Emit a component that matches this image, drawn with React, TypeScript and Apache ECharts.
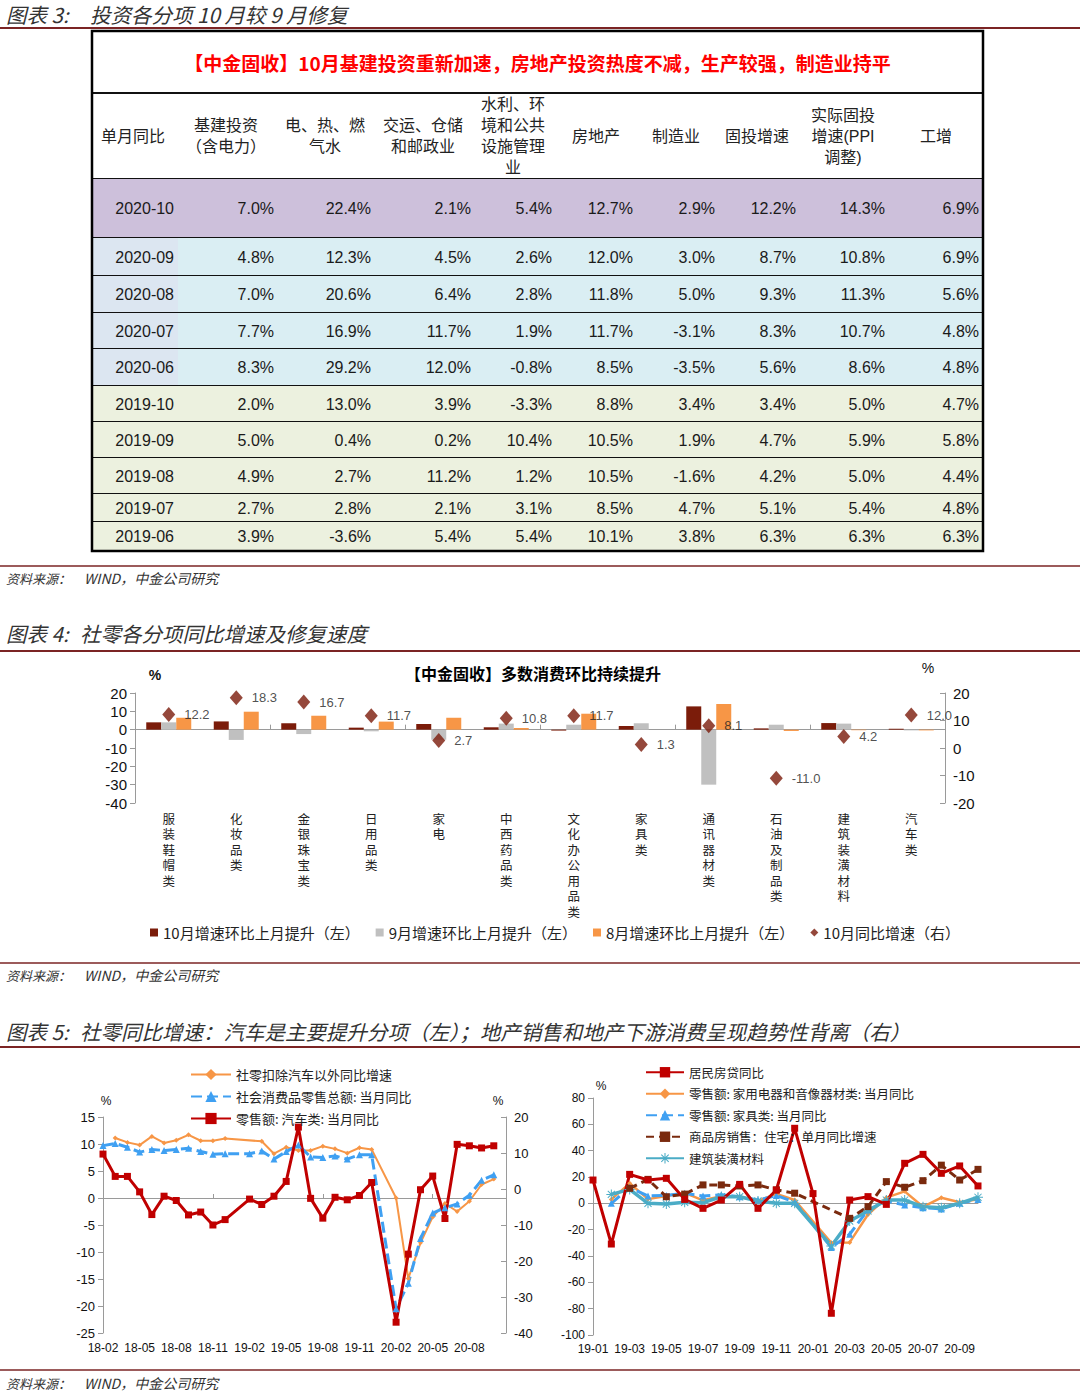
import React, { useEffect, useRef } from "react";
import * as echarts from "echarts";

const CJK = '"Noto Sans CJK SC", "Noto Sans", sans-serif';
const CJK_TIGHT = '"Liberation Sans", "Noto Sans CJK SC", sans-serif';
const LAT = '"Liberation Sans", Arial, sans-serif';

// ---------------- Figure 3: table ----------------
const tableTitle = "【中金固收】10月基建投资重新加速，房地产投资热度不减，生产较强，制造业持平";
const tableHeaders = [
  "单月同比",
  "基建投资\n（含电力）",
  "电、热、燃\n气水",
  "交运、仓储\n和邮政业",
  "水利、环\n境和公共\n设施管理\n业",
  "房地产",
  "制造业",
  "固投增速",
  "实际固投\n增速(PPI\n调整)",
  "工增",
];
const tableMonths = ["2020-10", "2020-09", "2020-08", "2020-07", "2020-06", "2019-10", "2019-09", "2019-08", "2019-07", "2019-06"];
const infraInv = [7.0, 4.8, 7.0, 7.7, 8.3, 2.0, 5.0, 4.9, 2.7, 3.9];
const utilities = [22.4, 12.3, 20.6, 16.9, 29.2, 13.0, 0.4, 2.7, 2.8, -3.6];
const transport = [2.1, 4.5, 6.4, 11.7, 12.0, 3.9, 0.2, 11.2, 2.1, 5.4];
const waterEnv = [5.4, 2.6, 2.8, 1.9, -0.8, -3.3, 10.4, 1.2, 3.1, 5.4];
const realEstate = [12.7, 12.0, 11.8, 11.7, 8.5, 8.8, 10.5, 10.5, 8.5, 10.1];
const manufacturing = [2.9, 3.0, 5.0, -3.1, -3.5, 3.4, 1.9, -1.6, 4.7, 3.8];
const faiGrowth = [12.2, 8.7, 9.3, 8.3, 5.6, 3.4, 4.7, 4.2, 5.1, 6.3];
const realFai = [14.3, 10.8, 11.3, 10.7, 8.6, 5.0, 5.9, 5.0, 5.4, 6.3];
const industrial = [6.9, 6.9, 5.6, 4.8, 4.8, 4.7, 5.8, 4.4, 4.8, 6.3];
const tableColumns = [infraInv, utilities, transport, waterEnv, realEstate, manufacturing, faiGrowth, realFai, industrial];

// ---------------- Figure 4: bars + diamonds ----------------
const cats4 = ["服装鞋帽类", "化妆品类", "金银珠宝类", "日用品类", "家电", "中西药品类", "文化办公用品类", "家具类", "通讯器材类", "石油及制品类", "建筑装潢材料", "汽车类"];
const legend4 = ["10月增速环比上月提升（左）", "9月增速环比上月提升（左）", "8月增速环比上月提升（左）", "10月同比增速（右）"];
const mom10 = [4.0, 4.5, 3.5, 1.1, 3.1, 1.3, -0.5, 2.0, 12.7, 0.7, 3.6, 0.5];
const mom9 = [4.0, -5.6, -2.4, -0.9, -5.5, 3.3, 2.7, 3.5, -30.0, 2.7, 3.3, -0.4];
const mom8 = [6.5, 9.8, 7.6, 4.4, 6.5, 0.9, 8.7, 0.0, 14.0, -0.7, -0.3, -0.4];
const yoy10 = [12.2, 18.3, 16.7, 11.7, 2.7, 10.8, 11.7, 1.3, 8.1, -11.0, 4.2, 12.0];

// ---------------- Figure 5 left ----------------
const monthsL = [
  "18-02", "18-03", "18-04", "18-05", "18-06", "18-07", "18-08", "18-09", "18-10", "18-11", "18-12",
  "19-01", "19-02", "19-03", "19-04", "19-05", "19-06", "19-07", "19-08", "19-09", "19-10", "19-11", "19-12",
  "20-01", "20-02", "20-03", "20-04", "20-05", "20-06", "20-07", "20-08", "20-09", "20-10", "20-11",
];
const namesL = ["社零扣除汽车以外同比增速", "社会消费品零售总额: 当月同比", "零售额: 汽车类: 当月同比"];
const exAutoYoY = [null, 11.1, 10.3, 9.8, 11.4, 10.2, 10.7, 11.7, 10.6, 10.6, 11.0, null, null, 10.5, 8.2, 9.4, 8.8, 8.8, 9.6, 9.1, 8.3, 9.3, 9.0, null, 0.0, -14.9, -8.3, -3.5, -1.0, -2.5, -0.6, 2.5, 3.5];
const retailYoY = [9.7, 10.1, 9.4, 8.5, 9.0, 8.8, 9.0, 9.2, 8.6, 8.1, 8.2, null, 8.2, 8.7, 7.2, 8.6, 9.8, 7.6, 7.5, 7.8, 7.2, 8.0, 8.0, null, -20.5, -15.8, -7.5, -2.8, -1.8, -1.1, 0.5, 3.3, 4.3];
const autoYoY = [9.7, 3.5, 3.5, -0.8, -7.1, -2.0, -3.2, -7.2, -6.4, -10.0, -8.5, null, -2.8, -4.3, -2.0, 2.1, 17.2, -2.6, -8.1, -2.3, -3.0, -1.8, 1.8, null, -37.0, -18.1, -0.2, 3.6, -8.2, 12.4, 12.0, 11.4, 12.0];

// ---------------- Figure 5 right ----------------
const monthsR = ["19-01", "19-02", "19-03", "19-04", "19-05", "19-06", "19-07", "19-08", "19-09", "19-10", "19-11", "19-12", "20-01", "20-02", "20-03", "20-04", "20-05", "20-06", "20-07", "20-08", "20-09", "20-10"];
const namesR = ["居民房贷同比", "零售额: 家用电器和音像器材类: 当月同比", "零售额: 家具类: 当月同比", "商品房销售：住宅：单月同比增速", "建筑装潢材料"];
const mortgageYoY = [17.7, -30.9, 22.0, 17.7, 19.0, 3.0, -3.8, 2.5, 14.4, -3.8, 10.1, 57.0, 7.4, -83.5, 2.5, 5.1, -0.8, 30.4, 37.2, 22.8, 28.4, 13.2];
const applianceYoY = [null, 3.0, 15.2, 3.2, 5.6, 8.0, 2.3, 5.4, 5.0, 1.9, 7.2, 2.5, null, -30.0, -29.7, -8.5, 4.3, 9.1, -2.6, 4.3, 0.8, 3.0];
const furnitureYoY = [null, 0.0, 12.0, 5.6, 6.0, 7.6, 5.6, 6.5, 5.0, 2.5, 6.0, 1.0, null, -33.5, -23.5, -5.0, 1.8, -1.3, -3.3, -4.3, 0.0, 3.0];
const housingSalesYoY = [null, null, 11.4, 18.2, 5.0, 7.0, 14.0, 14.0, 13.2, 14.0, 10.2, 7.7, null, null, -11.4, -2.5, 16.5, 12.2, 17.2, 29.0, 17.7, 25.8];
const buildingMatYoY = [null, 6.8, 10.6, 0.0, -0.5, 0.8, 0.5, 5.0, 5.0, 1.8, 0.0, 0.0, null, -32.4, -13.4, -5.8, 2.5, 2.5, -2.5, -3.3, 0.0, 4.6];

// ---------------- layout constants ----------------
const TABLE_W = 891;
const TABLE_H = 520;
const rowEdges = [0, 62, 148, 207, 245, 282, 318, 355, 391, 427, 463, 491, 520];
const headerCenters = [41, 134, 233, 331, 421, 504, 584, 665, 751, 844];
const valueRights = [82, 182, 279, 379, 460, 541, 623, 704, 793, 887];

const RED = "#C00000";
const ORANGE = "#F79646";
const BLUE = "#3FA0F2";
const BROWN = "#7A2A0E";
const CYAN = "#4BACC6";
const AXIS = "#9A9A9A";
const LINE_DARK = "#7B2424";
const ASTERISK = "path://M9,0H11V20H9Z M0,9H20V11H0Z M2.2,3.6L3.6,2.2L17.8,16.4L16.4,17.8Z M16.4,2.2L17.8,3.6L3.6,17.8L2.2,16.4Z";

function rowFill(i: number) {
  if (i === 0) return "#CDC0DB";
  if (i <= 4) return "#DAEEF3";
  return "#ECF1DF";
}

function renderTable(params: any, api: any) {
  const k = api.value(0);
  const pt = (x: number, y: number) => api.coord([x, y]);
  const x0 = pt(0, 0)[0];
  const x1 = pt(TABLE_W, 0)[0];
  const children: any[] = [];
  if (k === 12) {
    const a = pt(0, 0);
    const b = pt(TABLE_W, TABLE_H);
    children.push({ type: "rect", shape: { x: a[0], y: a[1], width: b[0] - a[0], height: b[1] - a[1] }, style: { fill: "none", stroke: "#000", lineWidth: 2.5 } });
    return { type: "group", children };
  }
  const top = pt(0, rowEdges[k])[1];
  const bottom = pt(0, rowEdges[k + 1])[1];
  const mid = (top + bottom) / 2;
  if (k === 0) {
    children.push({
      type: "text", x: pt(TABLE_W / 2, 0)[0], y: mid,
      style: { text: tableTitle, fill: "#FF0000", fontSize: 19, fontWeight: "bold", fontFamily: CJK, align: "center", verticalAlign: "middle" },
    });
  } else if (k === 1) {
    tableHeaders.forEach((h, j) => {
      children.push({
        type: "text", x: pt(headerCenters[j], 0)[0], y: mid,
        style: { text: h, fill: "#222", fontSize: 16, lineHeight: 21, fontFamily: CJK_TIGHT, align: "center", verticalAlign: "middle" },
      });
    });
  } else {
    const i = k - 2;
    children.push({ type: "rect", shape: { x: x0, y: top, width: x1 - x0, height: bottom - top }, style: { fill: rowFill(i) } });
    if (i >= 1 && i <= 4) {
      children.push({ type: "rect", shape: { x: x0, y: top, width: pt(86, 0)[0] - x0, height: bottom - top }, style: { fill: "#DCE6F1" } });
    }
    children.push({
      type: "text", x: pt(valueRights[0], 0)[0], y: mid,
      style: { text: tableMonths[i], fill: "#1a1a1a", fontSize: 16, fontFamily: LAT, align: "right", verticalAlign: "middle" },
    });
    tableColumns.forEach((col, j) => {
      children.push({
        type: "text", x: pt(valueRights[j + 1], 0)[0], y: mid,
        style: { text: col[i].toFixed(1) + "%", fill: "#1a1a1a", fontSize: 16, fontFamily: LAT, align: "right", verticalAlign: "middle" },
      });
    });
  }
  if (k < 11) {
    children.push({ type: "line", shape: { x1: x0, y1: bottom, x2: x1, y2: bottom }, style: { stroke: "#111", lineWidth: 2 } });
  }
  return { type: "group", children };
}

function hText(x: number, y: number, text: string, size: number, extra: any = {}) {
  return {
    type: "text", x, y, silent: true,
    style: { text, fontSize: size, fontFamily: CJK, fill: "#333", verticalAlign: "middle", ...extra },
  };
}
function hLine(y: number, w: number) {
  return { type: "line", silent: true, shape: { x1: 0, y1: y, x2: 1080, y2: y }, style: { stroke: LINE_DARK, lineWidth: w } };
}

function buildOption(): any {
  const axisLabelL = (size: number) => ({ fontSize: size, fontFamily: LAT, color: "#111", margin: 8 });
  const valAxisBase = {
    type: "value",
    splitLine: { show: false },
    axisLine: { show: true, lineStyle: { color: AXIS } },
    axisTick: { show: true, length: 5, lineStyle: { color: AXIS } },
  };
  const TITLE = 20.5;
  return {
    animation: false,
    backgroundColor: "#fff",
    grid: [
      { left: 92, top: 31, width: TABLE_W, height: TABLE_H },
      { left: 135, top: 693, width: 810, height: 110 },
      { left: 103, top: 1117, width: 403, height: 216 },
      { left: 593, top: 1098, width: 385, height: 237 },
    ],
    xAxis: [
      { gridIndex: 0, type: "value", min: 0, max: TABLE_W, show: false },
      {
        gridIndex: 1, type: "category", data: cats4, position: "bottom",
        axisLine: { onZero: true, lineStyle: { color: AXIS } },
        axisTick: { show: true, inside: true, length: 5, lineStyle: { color: AXIS } },
        axisLabel: { show: false },
      },
      {
        gridIndex: 1, type: "category", data: cats4, position: "bottom",
        axisLine: { show: false, onZero: false }, axisTick: { show: false },
        axisLabel: {
          interval: 0, formatter: (v: string) => v.split("").join("\n"),
          fontSize: 12.5, lineHeight: 15.5, fontFamily: CJK_TIGHT, color: "#222", margin: 9,
        },
      },
      {
        gridIndex: 2, type: "category", data: monthsL, boundaryGap: false, position: "bottom",
        axisLine: { onZero: true, lineStyle: { color: AXIS } },
        axisTick: { show: true, inside: true, length: 4, interval: 8, lineStyle: { color: AXIS } },
        axisLabel: { show: false },
      },
      {
        gridIndex: 2, type: "category", data: monthsL, boundaryGap: false, position: "bottom",
        axisLine: { show: false, onZero: false }, axisTick: { show: false },
        axisLabel: { interval: (i: number) => i % 3 === 0 && i < 33, fontSize: 12, fontFamily: LAT, color: "#111", margin: 9 },
      },
      {
        gridIndex: 3, type: "category", data: monthsR, boundaryGap: false, position: "bottom",
        axisLine: { onZero: true, lineStyle: { color: AXIS } }, axisTick: { show: false },
        axisLabel: { show: false },
      },
      {
        gridIndex: 3, type: "category", data: monthsR, boundaryGap: false, position: "bottom",
        axisLine: { show: false, onZero: false }, axisTick: { show: false },
        axisLabel: { interval: 1, fontSize: 12, fontFamily: LAT, color: "#111", margin: 8 },
      },
    ],
    yAxis: [
      { gridIndex: 0, type: "value", min: 0, max: TABLE_H, inverse: true, show: false },
      { ...valAxisBase, gridIndex: 1, position: "left", min: -40, max: 20, interval: 10, axisLabel: axisLabelL(15) },
      { ...valAxisBase, gridIndex: 1, position: "right", min: -20, max: 20, interval: 10, axisTick: { show: true, inside: true, length: 5, lineStyle: { color: AXIS } }, axisLabel: axisLabelL(15) },
      { ...valAxisBase, gridIndex: 2, position: "left", min: -25, max: 15, interval: 5, axisLabel: axisLabelL(13) },
      { ...valAxisBase, gridIndex: 2, position: "right", min: -40, max: 20, interval: 10, axisTick: { show: true, inside: true, length: 5, lineStyle: { color: AXIS } }, axisLabel: axisLabelL(13) },
      { ...valAxisBase, gridIndex: 3, position: "left", min: -100, max: 80, interval: 20, axisLabel: axisLabelL(12) },
    ],
    legend: [
      {
        selectedMode: false, left: 145, top: 920, itemWidth: 8, itemHeight: 8, itemGap: 16,
        data: [
          { name: legend4[0], icon: "rect" },
          { name: legend4[1], icon: "rect" },
          { name: legend4[2], icon: "rect" },
          { name: legend4[3], icon: "diamond" },
        ],
        textStyle: { fontSize: 15, fontFamily: CJK, color: "#222" },
      },
      {
        selectedMode: false, orient: "vertical", left: 185, top: 1063, itemWidth: 40, itemHeight: 14, itemGap: 9,
        data: namesL, textStyle: { fontSize: 13, fontFamily: CJK, color: "#222" },
      },
      {
        selectedMode: false, orient: "vertical", left: 640, top: 1061, itemWidth: 38, itemHeight: 13, itemGap: 9,
        data: namesR, textStyle: { fontSize: 12.5, fontFamily: CJK, color: "#222" },
      },
    ],
    series: [
      {
        type: "custom", name: "table", xAxisIndex: 0, yAxisIndex: 0,
        data: [0, 1, 2, 3, 4, 5, 6, 7, 8, 9, 10, 11, 12].map((k) => [k, 0]),
        renderItem: renderTable, silent: true,
      },
      { type: "bar", name: legend4[0], xAxisIndex: 1, yAxisIndex: 1, data: mom10, barWidth: 15, barGap: "0%", itemStyle: { color: "#7B1C0A" } },
      { type: "bar", name: legend4[1], xAxisIndex: 1, yAxisIndex: 1, data: mom9, barWidth: 15, barGap: "0%", itemStyle: { color: "#C0C0C0" } },
      { type: "bar", name: legend4[2], xAxisIndex: 1, yAxisIndex: 1, data: mom8, barWidth: 15, barGap: "0%", itemStyle: { color: ORANGE } },
      {
        type: "scatter", name: legend4[3], xAxisIndex: 1, yAxisIndex: 2, data: yoy10,
        symbol: "diamond", symbolSize: [13, 15], itemStyle: { color: "#7B1A0A" },
        label: { show: true, position: "right", distance: 9, formatter: (p: any) => Number(p.value).toFixed(1), fontSize: 13, fontFamily: LAT, color: "#222" },
      },
      {
        type: "line", name: namesL[0], xAxisIndex: 3, yAxisIndex: 3, data: exAutoYoY, connectNulls: true,
        symbol: "diamond", symbolSize: 5, lineStyle: { color: ORANGE, width: 2 }, itemStyle: { color: ORANGE },
      },
      {
        type: "line", name: namesL[1], xAxisIndex: 3, yAxisIndex: 3, data: retailYoY, connectNulls: true,
        symbol: "triangle", symbolSize: 7, lineStyle: { color: BLUE, width: 3, type: [11, 5] }, itemStyle: { color: BLUE },
      },
      {
        type: "line", name: namesL[2], xAxisIndex: 3, yAxisIndex: 4, data: autoYoY, connectNulls: true,
        symbol: "rect", symbolSize: 7, lineStyle: { color: RED, width: 3 }, itemStyle: { color: RED },
      },
      {
        type: "line", name: namesR[1], xAxisIndex: 5, yAxisIndex: 5, data: applianceYoY, connectNulls: true,
        symbol: "diamond", symbolSize: 5, lineStyle: { color: ORANGE, width: 2.5 }, itemStyle: { color: ORANGE },
      },
      {
        type: "line", name: namesR[2], xAxisIndex: 5, yAxisIndex: 5, data: furnitureYoY, connectNulls: true,
        symbol: "triangle", symbolSize: 7, lineStyle: { color: BLUE, width: 3, type: [11, 5] }, itemStyle: { color: BLUE },
      },
      {
        type: "line", name: namesR[4], xAxisIndex: 5, yAxisIndex: 5, data: buildingMatYoY, connectNulls: true,
        symbol: ASTERISK, symbolSize: 10, lineStyle: { color: CYAN, width: 3.5 }, itemStyle: { color: CYAN },
      },
      {
        type: "line", name: namesR[3], xAxisIndex: 5, yAxisIndex: 5, data: housingSalesYoY, connectNulls: true,
        symbol: "rect", symbolSize: 7, lineStyle: { color: BROWN, width: 3, type: [8, 5] }, itemStyle: { color: BROWN },
      },
      {
        type: "line", name: namesR[0], xAxisIndex: 5, yAxisIndex: 5, data: mortgageYoY, connectNulls: true,
        symbol: "rect", symbolSize: 7, lineStyle: { color: RED, width: 3 }, itemStyle: { color: RED },
      },
    ],
    graphic: {
      elements: [
        hText(6, 14, "图表 3:", TITLE, { fontStyle: "italic" }),
        hText(90, 14, "投资各分项 10 月较 9 月修复", TITLE, { fontStyle: "italic" }),
        hLine(28, 2),
        hLine(566, 1.5),
        hText(6, 578, "资料来源：", 13, { fontStyle: "italic" }),
        hText(84, 578, "WIND，中金公司研究", 14, { fontStyle: "italic" }),
        hText(6, 633, "图表 4:", TITLE, { fontStyle: "italic" }),
        hText(80, 633, "社零各分项同比增速及修复速度", TITLE, { fontStyle: "italic" }),
        hLine(651, 2),
        hText(533, 673, "【中金固收】多数消费环比持续提升", 16, { align: "center", fontWeight: "bold", fill: "#000" }),
        hText(155, 675, "%", 14, { align: "center", fontFamily: LAT, fontWeight: "bold", fill: "#111" }),
        hText(928, 668, "%", 14, { align: "center", fontFamily: LAT, fill: "#111" }),
        hLine(963, 1.5),
        hText(6, 975, "资料来源：", 13, { fontStyle: "italic" }),
        hText(84, 975, "WIND，中金公司研究", 14, { fontStyle: "italic" }),
        hText(6, 1031, "图表 5:", TITLE, { fontStyle: "italic" }),
        hText(80, 1031, "社零同比增速：汽车是主要提升分项（左）；地产销售和地产下游消费呈现趋势性背离（右）", TITLE, { fontStyle: "italic" }),
        hLine(1047, 2),
        hText(106, 1101, "%", 12, { align: "center", fontFamily: LAT, fill: "#111" }),
        hText(498, 1101, "%", 12, { align: "center", fontFamily: LAT, fill: "#111" }),
        hText(601, 1086, "%", 12, { align: "center", fontFamily: LAT, fill: "#111" }),
        hLine(1370, 1.5),
        hText(6, 1383, "资料来源：", 13, { fontStyle: "italic" }),
        hText(84, 1383, "WIND，中金公司研究", 14, { fontStyle: "italic" }),
      ],
    },
  };
}

export default function App() {
  const ref = useRef<HTMLDivElement>(null);
  useEffect(() => {
    if (!ref.current) return;
    const chart = echarts.init(ref.current, null, { renderer: "svg" });
    chart.setOption(buildOption());
    return () => chart.dispose();
  }, []);
  return (
    <div
      ref={ref}
      style={{ position: "absolute", left: 0, top: 0, width: 1080, height: 1396, background: "#fff" }}
    />
  );
}
